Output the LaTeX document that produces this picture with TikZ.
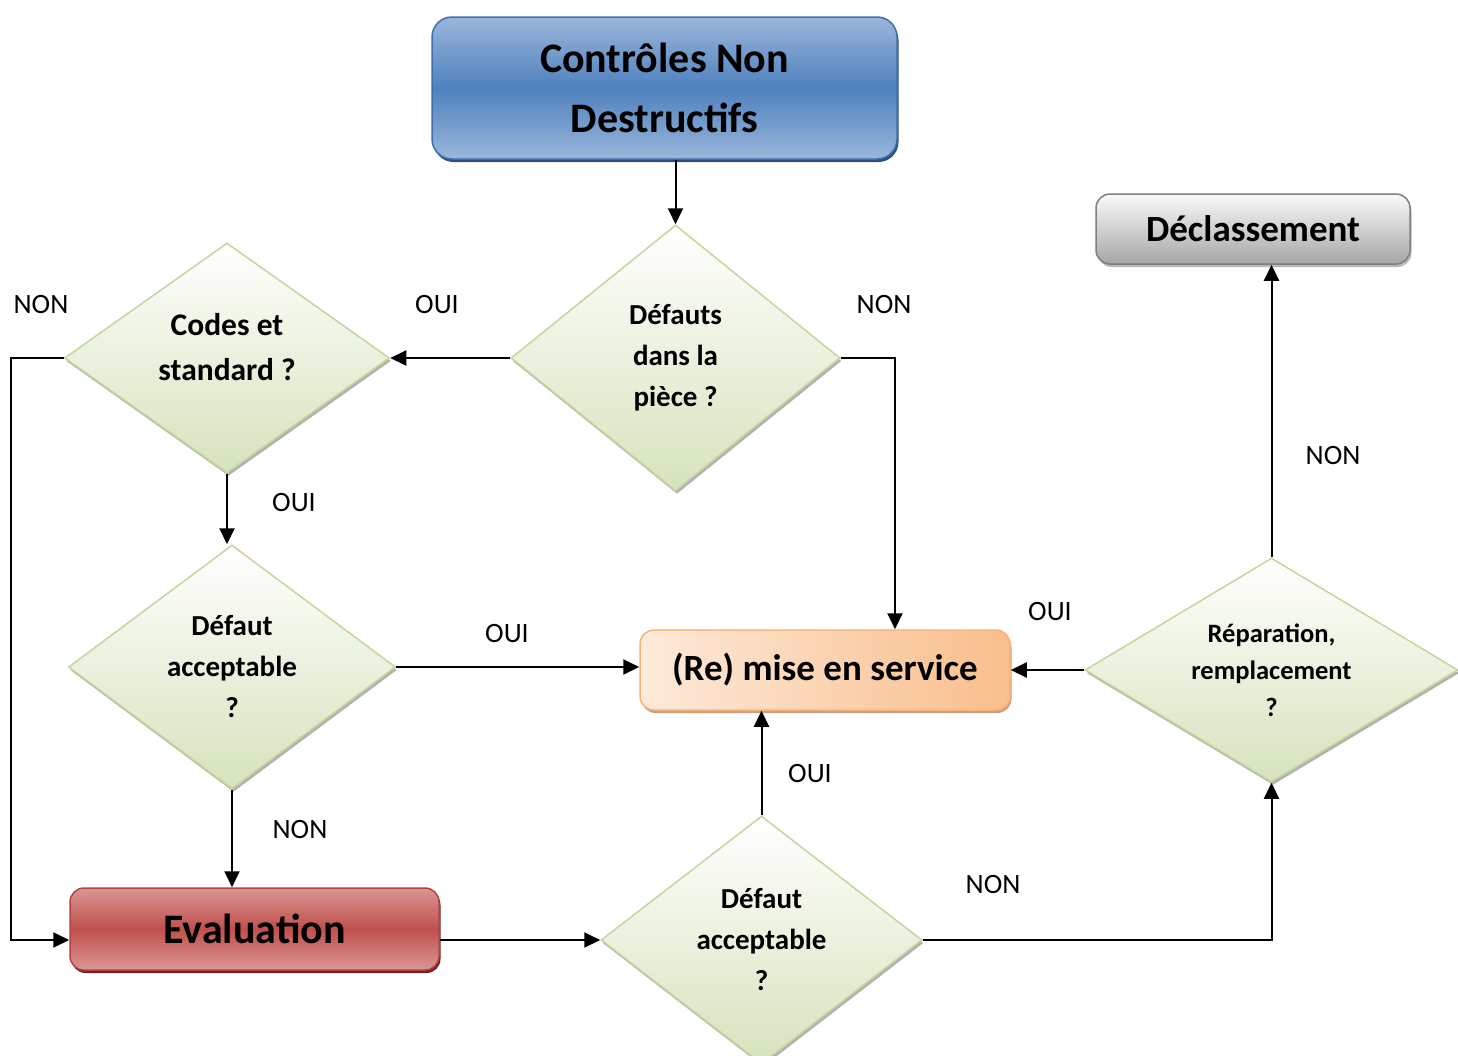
\documentclass[tikz,border=0pt]{standalone}
\usepackage{fontspec}
\setmainfont{Carlito}
\usetikzlibrary{shapes.geometric,arrows.meta,shadows}

\definecolor{bluemid}{HTML}{4F81BD}
\definecolor{bluelight}{HTML}{9AB6DB}
\definecolor{blueedge}{HTML}{3F6FAD}
\definecolor{blueshade}{HTML}{2C4F7C}
\definecolor{redmid}{HTML}{C0504D}
\definecolor{redlight}{HTML}{DA9694}
\definecolor{rededge}{HTML}{B5433F}
\definecolor{redshade}{HTML}{6E2624}
\definecolor{graytop}{HTML}{FAFAFA}
\definecolor{graybot}{HTML}{A6A6A6}
\definecolor{grayedge}{HTML}{7F7F7F}
\definecolor{orlight}{HTML}{FDEADA}
\definecolor{ordark}{HTML}{F9BE8C}
\definecolor{oredge}{HTML}{F8B47A}
\definecolor{orshade}{HTML}{C9A080}
\definecolor{greenfill}{HTML}{D6E3BC}
\definecolor{greenedge}{HTML}{C3D69B}

\tikzset{
  box/.style={rectangle, rounded corners=14pt, line width=1.5pt, align=center,
    font=\bfseries\fontsize{37}{44}\selectfont, inner sep=0pt},
  bluebox/.style={box, rounded corners=20pt, draw=blueedge,
    top color=bluelight, bottom color=bluelight, middle color=bluemid,
    font=\bfseries\fontsize{42}{60}\selectfont,
    drop shadow={shadow xshift=1.5pt, shadow yshift=-3pt, fill=blueshade, opacity=1}},
  redbox/.style={box, draw=rededge,
    top color=redlight, bottom color=redlight, middle color=redmid,
    font=\bfseries\fontsize{42}{50}\selectfont,
    drop shadow={shadow xshift=1.5pt, shadow yshift=-3pt, fill=redshade, opacity=1}},
  graybox/.style={box, draw=grayedge, top color=graytop, bottom color=graybot,
    drop shadow={shadow xshift=1.5pt, shadow yshift=-3pt, fill=gray!55, opacity=1}},
  orangebox/.style={box, draw=oredge, left color=orlight, right color=ordark,
    drop shadow={shadow xshift=1.5pt, shadow yshift=-3pt, fill=orshade, opacity=1}},
  decision/.style={diamond, draw=greenedge, line width=1.5pt, top color=white,
    bottom color=greenfill, align=center, inner sep=0pt, aspect=1.3,
    font=\bfseries\fontsize{29}{41}\selectfont,
    drop shadow={shadow xshift=1.5pt, shadow yshift=-3pt, fill=gray!60, opacity=1}},
  link/.style={line width=2pt, -{Triangle[length=16pt,width=15pt]}},
  answer/.style={font=\fontsize{28}{34}\selectfont, inner sep=0pt}
}

\begin{document}
\begin{tikzpicture}[x=1pt, y=-1pt]
\useasboundingbox (0,0) rectangle (1458,1055);

% boxes
\node[bluebox, minimum width=465pt, minimum height=142pt] (cnd) at (664.5,88) {Contrôles Non\\Destructifs};
\node[graybox, minimum width=314pt, minimum height=70pt] (decl) at (1253,229) {Déclassement};
\node[orangebox, minimum width=370pt, minimum height=80pt] (remise) at (825,670) {(Re) mise en service};
\node[redbox, minimum width=369pt, minimum height=82pt] (eval) at (254.5,929) {Evaluation};

% decisions
\node[decision, minimum width=329pt, minimum height=266pt] (d1) at (675.5,358) {Défauts\\dans la\\pièce ?};
\node[decision, minimum width=325pt, minimum height=230pt, align=none,
      font=\bfseries\fontsize{31.5}{45}\selectfont] (d2) at (227,358)
  {\raisebox{0pt}[\height][\dimexpr\depth+18pt\relax]{\begin{tabular}{@{}c@{}}Codes et\\standard ?\end{tabular}}};
\node[decision, minimum width=327pt, minimum height=244pt] (d3) at (232,667) {Défaut\\acceptable\\?};
\node[decision, minimum width=321pt, minimum height=248pt] (d4) at (761.5,940) {Défaut\\acceptable\\?};
\node[decision, minimum width=373pt, minimum height=224pt, font=\bfseries\fontsize{26.5}{37}\selectfont] (d5) at (1271.5,670) {Réparation,\\remplacement\\?};

% connectors
\draw[link] (d1.north |- cnd.south) -- (d1.north);
\draw[link] (d1.west) -- (d2.east);
\draw[link] (d2.west) -- ++(-53,0) |- ([yshift=-11pt]eval.west);
\draw[link] (d2.south) -- (d2.south |- d3.north);
\draw[link] (d3.east) -- (d3.east -| remise.west);
\draw[link] (d3.south) -- (d3.south |- eval.north);
\draw[link] ([yshift=-11pt]eval.east) -- (d4.west);
\draw[link] (d4.north) -- (d4.north |- remise.south);
\draw[link] (d4.east) -| (d5.south);
\draw[link] (d5.west) -- (remise.east);
\draw[link] (d5.north) -- (d5.north |- decl.south);
\draw[link] (d1.east) -| ([xshift=70pt]remise.north);

% answers
\node[answer] (a1) at (41,305) {NON};
\node[answer] (a2) at (437,305) {OUI};
\node[answer] (a3) at (884,305) {NON};
\node[answer] (a4) at (294,503) {OUI};
\node[answer] (a5) at (507,634) {OUI};
\node[answer] (a6) at (300,829) {NON};
\node[answer] (a7) at (810,774) {OUI};
\node[answer] (a8) at (993,884) {NON};
\node[answer] (a9) at (1050,612) {OUI};
\node[answer] (a10) at (1333,456) {NON};
\end{tikzpicture}
\end{document}
